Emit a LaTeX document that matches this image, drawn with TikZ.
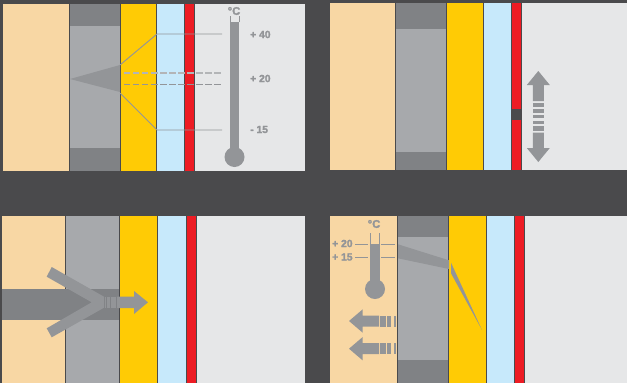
\documentclass[tikz,border=0pt]{standalone}
\usepackage{fontspec}
\setmainfont{Liberation Sans}[BoldFeatures={FakeBold=2}]
\usepackage{xcolor}
\definecolor{backdrop}{HTML}{4A4A4C}
\definecolor{masonry}{HTML}{F8D7A4}
\definecolor{insul}{HTML}{A7A9AC}
\definecolor{insuldark}{HTML}{808285}
\definecolor{glue}{HTML}{FFCB05}
\definecolor{airgap}{HTML}{C7E9FB}
\definecolor{seal}{HTML}{ED1C24}
\definecolor{room}{HTML}{E6E7E8}
\definecolor{signgray}{HTML}{939598}
\tikzset{
  templabel/.style={font=\bfseries\fontsize{8.8}{10}\selectfont, text=signgray, inner sep=0pt},
  unitlabel/.style={font=\bfseries\fontsize{9.5}{10}\selectfont, text=signgray, inner sep=0pt},
  tempwire/.style={draw=signgray, line width=0.8pt},
}
\begin{document}
\begin{tikzpicture}[x=0.03cm, y=-0.03cm]
  \fill[backdrop] (0,0) rectangle (627,383);
  % layers: top, bottom, peach, insulation, glue, gap, seal, room, right edge, band top, band bottom
  \foreach \ya/\yb/\xa/\xb/\xc/\xd/\xe/\xf/\xg/\xh/\ta/\tb in {
    4/171/3/69/120/156/184/194/195/305/26/148,
    3/170/330/395/446/483/511/521/522/627/29/152,
    216/383/2/65/119/157/186/196/197/305/0/0,
    216/383/330/397/448/486/514/524/525/627/237/360} {
    \fill[masonry] (\xa,\ya) rectangle (\xb,\yb);
    \fill[insul] (\xb+1,\ya) rectangle (\xc,\yb);
    \ifnum\ta>0
      \fill[insuldark] (\xb+1,\ya) rectangle (\xc,\ta);
      \fill[insuldark] (\xb+1,\tb) rectangle (\xc,\yb);
    \fi
    \fill[glue] (\xc+1.2,\ya) rectangle (\xd,\yb);
    \fill[airgap] (\xd+1.2,\ya) rectangle (\xe,\yb);
    \fill[seal] (\xe+1,\ya) rectangle (\xf,\yb);
    \fill[room] (\xg,\ya) rectangle (\xh,\yb);
  }

  % top left
  \fill[signgray] (70,79) -- (120,65) -- (120,92) -- cycle;
  \draw[tempwire] (120,65) -- (157,34) -- (222,34);
  \draw[tempwire] (120,93) -- (157,130) -- (222,130);
  \draw[tempwire, draw=signgray!70, line width=1.1pt, dash pattern=on 5.5pt off 2.2pt] (124,73) -- (222,73);
  \draw[tempwire, dash pattern=on 5.5pt off 2.2pt] (124,84.5) -- (222,84.5);
  \fill[signgray] (230,22) rectangle (239,150);
  \fill[signgray] (234.5,157) circle (10);
  \draw[signgray, line width=0.5pt] (230,22) -- (230,16) (239,22) -- (239,16);
  \node[unitlabel] (unita) at (234,11) {°C};
  \node[templabel, anchor=west] (hot) at (250,34.5) {+ 40};
  \node[templabel, anchor=west] (mid) at (250,78.5) {+ 20};
  \node[templabel, anchor=west] (cold) at (250,129.5) {- 15};

  % top right
  \fill[backdrop] (511.5,109) rectangle (521.5,120);
  \fill[signgray] (538.3,71) -- (549.8,85) -- (543.8,85) -- (543.8,101) -- (532.8,101)
    -- (532.8,85) -- (526.8,85) -- cycle;
  \fill[signgray] (538.3,162) -- (549.8,148) -- (543.8,148) -- (543.8,132.7) -- (532.8,132.7)
    -- (532.8,148) -- (526.8,148) -- cycle;
  \foreach \ya/\yb in {102.7/107.3,109.3/112.7,115/118,120.7/124,126/131.3}
    \fill[signgray] (532.8,\ya) rectangle (543.8,\yb);

  % bottom left
  \fill[insuldark] (2,289) rectangle (119,320);
  \fill[signgray] (51.7,267) -- (46.7,276.7) -- (91.7,302.3) -- (46.7,328.3) -- (51.7,337.3)
    -- (104,307.7) -- (104,296.7) -- cycle;
  \foreach \xa/\xb in {104.7/105.7,106.5/110.2,111/116.3}
    \fill[signgray] (\xa,296.7) rectangle (\xb,308);
  \fill[signgray] (117,296.7) -- (134,296.7) -- (134,291) -- (148,302.3) -- (134,314)
    -- (134,308) -- (117,308) -- cycle;

  % bottom right
  \fill[backdrop] (398.5,214) rectangle (447.5,216);
  \fill[signgray] (398,244.3) -- (449,260.3) -- (449,269) -- (398,258.3) -- cycle;
  \fill[signgray] (451,262.7) -- (451,273.3) -- (482,330) -- cycle;
  \fill[signgray] (370,244.3) rectangle (379.5,285);
  \fill[signgray] (375,289) circle (10);
  \draw[signgray, line width=0.5pt] (370.5,244) -- (370.5,233) (378.8,244) -- (378.8,233);
  \node[unitlabel] (unitb) at (374,224) {°C};
  \node[templabel, anchor=west] (warm) at (332,243.5) {+ 20};
  \node[templabel, anchor=west] (mild) at (332,257) {+ 15};
  \draw[tempwire] (355,244.3) -- (368,244.3) (381,244.3) -- (394.7,244.3);
  \draw[tempwire] (355,257.3) -- (368,257.3) (381,257.3) -- (394.7,257.3);
  \foreach \y in {321,348.7} {
    \fill[signgray] (349,\y) -- (362.7,\y-11.7) -- (362.7,\y-5.5) -- (379,\y-5.5)
      -- (379,\y+5.5) -- (362.7,\y+5.5) -- (362.7,\y+11.7) -- cycle;
    \foreach \xa/\xb in {380.3/385.7,387.3/390.7,394/396}
      \fill[signgray] (\xa,\y-5.5) rectangle (\xb,\y+5.5);
  }
\end{tikzpicture}
\end{document}
